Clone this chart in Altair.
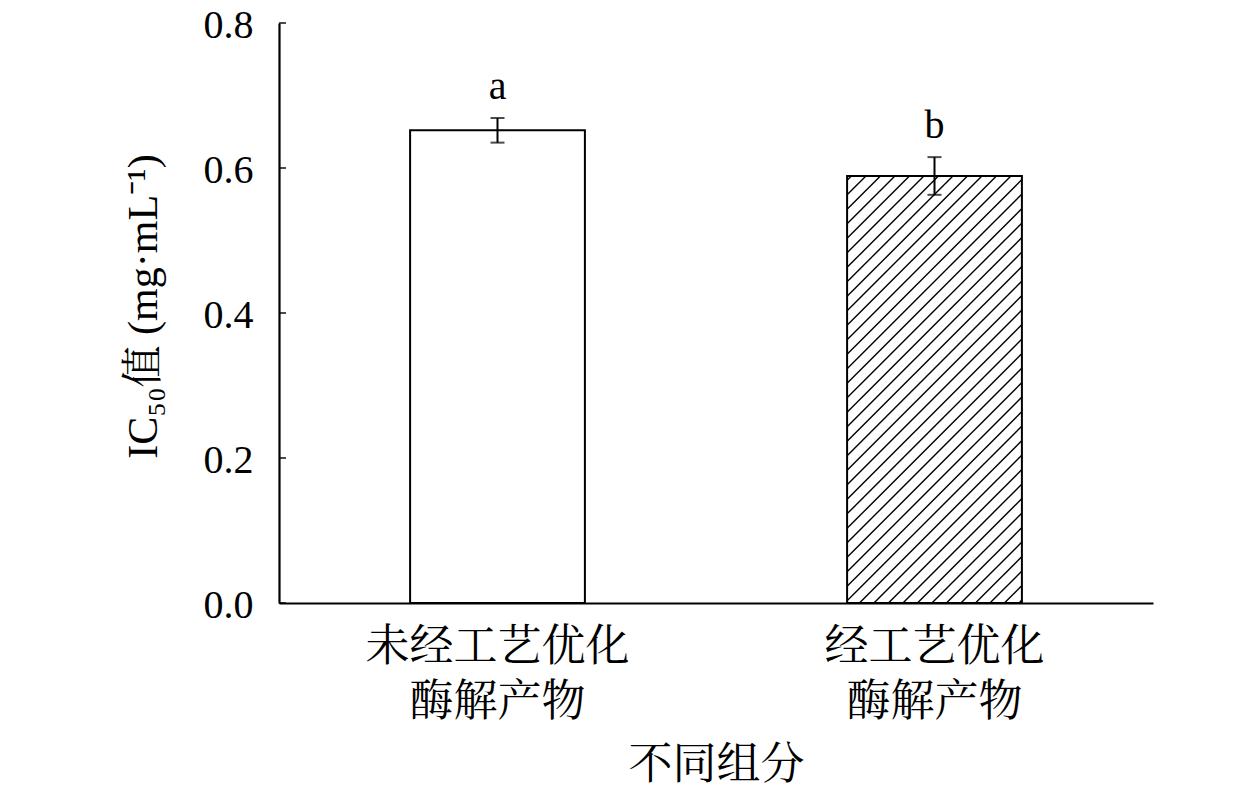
import altair as alt
import pandas as pd
import numpy as np

categories = ["未经工艺优化\n酶解产物", "经工艺优化\n酶解产物"]
means = [0.652, 0.589]
errors = [0.017, 0.026]
letters = ["a", "b"]
hatched = [False, True]
y_ticks = [0.0, 0.2, 0.4, 0.6, 0.8]

W, H = 874, 580
Y_MAX = 0.8
FONT = "Times New Roman, Liberation Serif, Noto Serif CJK SC, Noto Sans CJK SC"
Y_TITLE = "IC₅₀值 (mg·mL⁻¹)"

df = pd.DataFrame({"cat": categories, "mean": means, "err": errors, "letter": letters})
df["lo"] = df["mean"] - df["err"]
df["hi"] = df["mean"] + df["err"]

# band geometry (must match the band scale below)
P_IN, P_OUT = 0.6, 0.3
step = W / (len(categories) - P_IN + 2 * P_OUT)
px_x = step
px_y = H / Y_MAX
x_dom = [0, len(categories) - P_IN + 2 * P_OUT]

rows = []
spacing = 14.5
for i, (m, h) in enumerate(zip(means, hatched)):
    if not h:
        continue
    x0u = P_OUT + i
    wpx = (1 - P_IN) * step
    hpx = m * px_y
    c = -hpx + spacing * 0.3
    while c < wpx:
        xa = max(0.0, c)
        xb = min(wpx, hpx + c)
        if xb > xa:
            rows.append({"x": x0u + xa / px_x, "x2": x0u + xb / px_x,
                         "mean": (xa - c) / px_y, "mean_end": (xb - c) / px_y})
        c += spacing
hatch_df = pd.DataFrame(rows)

yscale = alt.Scale(domain=[0, Y_MAX], nice=False)
yaxis = alt.Axis(values=y_ticks, format=".1f", ticks=False, labelOffset=2,
                 labelPadding=26, titlePadding=38, titleY=283, titleFontSize=42)


def Y(field="mean"):
    return alt.Y(f"{field}:Q", scale=yscale, title=Y_TITLE, axis=yaxis)


xenc = alt.X("cat:N", sort=categories, title="不同组分",
             scale=alt.Scale(paddingInner=P_IN, paddingOuter=P_OUT),
             axis=alt.Axis(labelAngle=0, labelExpr="split(datum.label, '\\n')",
                           ticks=False, labelPadding=22, labelLineHeight=55,
                           titlePadding=19, labelLimit=1000, orient="bottom"))
xs = alt.X("cat:N", sort=categories)

base = alt.Chart(df)
bars_outline = base.mark_bar(fill="white", fillOpacity=0, stroke="black", strokeWidth=2).encode(
    x=xenc, y=Y())
err_rule = base.mark_rule(color="black", strokeWidth=2).encode(
    x=xs, y=alt.Y("lo:Q", scale=yscale, title=Y_TITLE, axis=yaxis), y2="hi:Q")
cap_lo = base.mark_tick(color="black", size=14, thickness=2).encode(
    x=xs, y=alt.Y("lo:Q", scale=yscale, title=Y_TITLE, axis=yaxis))
cap_hi = base.mark_tick(color="black", size=14, thickness=2).encode(
    x=xs, y=alt.Y("hi:Q", scale=yscale, title=Y_TITLE, axis=yaxis))
text = base.mark_text(font=FONT, fontSize=40, baseline="middle", dy=-31, color="black").encode(
    x=xs, y=alt.Y("hi:Q", scale=yscale, title=Y_TITLE, axis=yaxis), text="letter:N")

tick_df = pd.DataFrame({"mean": y_ticks})
ticks = alt.Chart(tick_df).mark_tick(color="black", size=7, thickness=2).encode(
    y=Y(), x=alt.value(3.5))

main = alt.layer(bars_outline, err_rule, cap_lo, cap_hi, text, ticks)

hatch = alt.Chart(hatch_df).mark_rule(color="black", strokeWidth=1.4).encode(
    x=alt.X("x:Q", scale=alt.Scale(domain=x_dom, nice=False, zero=False), axis=None),
    x2="x2:Q",
    y=Y(),
    y2="mean_end:Q")

chart = alt.layer(hatch, main).resolve_scale(x="independent").properties(
    width=W, height=H,
    autosize=alt.AutoSizeParams(type="none"),
    padding={"left": 271, "top": 15, "right": 90, "bottom": 190},
).configure_axis(
    labelFont=FONT, titleFont=FONT, labelFontSize=40, titleFontSize=40,
    labelColor="black", titleColor="black", titleFontWeight="normal",
    domainColor="black", domainWidth=2.2, grid=False,
).configure_axisX(labelFontSize=44, titleFontSize=44).configure_view(stroke=None)

chart.save("out.html", embed_options={"renderer": "svg", "actions": False})
